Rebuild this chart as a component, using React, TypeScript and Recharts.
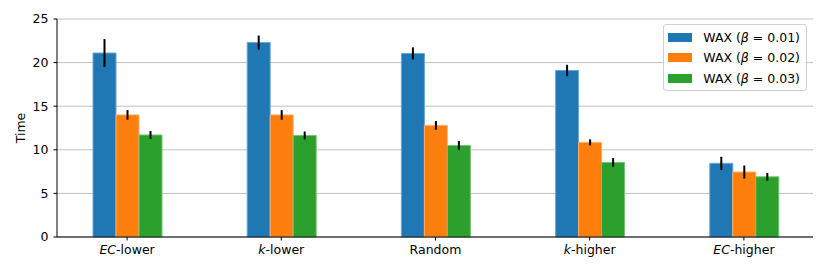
import React from 'react';
import {
  BarChart, Bar, XAxis, YAxis, CartesianGrid, ErrorBar, Legend,
} from 'recharts';

const categories = ['EC-lower', 'k-lower', 'Random', 'k-higher', 'EC-higher'];
const beta001 = [21.1, 22.3, 21.05, 19.1, 8.45];
const beta002 = [14.0, 14.0, 12.8, 10.85, 7.45];
const beta003 = [11.7, 11.65, 10.5, 8.55, 6.9];
const err001 = [1.6, 0.8, 0.7, 0.65, 0.75];
const err002 = [0.55, 0.55, 0.5, 0.35, 0.75];
const err003 = [0.45, 0.45, 0.5, 0.5, 0.45];
const yTicks = [0, 5, 10, 15, 20, 25];

const series = [
  { key: 'b1', err: 'e1', beta: '0.01', color: '#1f77b4', edge: '#6aa6d3' },
  { key: 'b2', err: 'e2', beta: '0.02', color: '#ff7f0e', edge: '#ffae6a' },
  { key: 'b3', err: 'e3', beta: '0.03', color: '#2ca02c', edge: '#75c275' },
];

const data = categories.map((name, i) => ({
  name,
  b1: beta001[i], b2: beta002[i], b3: beta003[i],
  e1: err001[i], e2: err002[i], e3: err003[i],
}));

const FONT = '"DejaVu Sans", sans-serif';
const FS = 12.5;

function CategoryTick({ x, y, payload }: any) {
  const label: string = payload.value;
  const dash = label.indexOf('-');
  return (
    <text x={x} y={y} dy="0.71em" textAnchor="middle" fill="#000" fontSize={FS} fontFamily={FONT}>
      {dash > 0 ? (
        <>
          <tspan fontStyle="italic">{label.slice(0, dash)}</tspan>
          <tspan>{label.slice(dash)}</tspan>
        </>
      ) : label}
    </text>
  );
}

function TimeLabel({ viewBox }: any) {
  const cx = viewBox.x + 20;
  const cy = viewBox.y + viewBox.height / 2;
  return (
    <text x={cx} y={cy} transform={`rotate(-90 ${cx} ${cy})`} textAnchor="middle"
      dominantBaseline="central" fontSize={FS} fontFamily={FONT} fill="#000">
      Time
    </text>
  );
}

function LegendBox() {
  return (
    <div style={{
      border: '1px solid #d0d0d0', borderRadius: 3, background: 'rgba(255,255,255,0.85)',
      padding: '2px 6px 3px 4px', fontFamily: FONT, fontSize: FS, color: '#000', boxSizing: 'border-box',
      height: 67,
    }}>
      {series.map(s => (
        <div key={s.key} style={{ display: 'flex', alignItems: 'center', height: 20.5 }}>
          <span style={{ display: 'inline-block', width: 26, height: 9, background: s.color, marginRight: 11 }} />
          <span style={{ whiteSpace: 'nowrap' }}>
            WAX (<i>β</i> = {s.beta})
          </span>
        </div>
      ))}
    </div>
  );
}

export default function App() {
  return (
    <div style={{ position: 'absolute', left: 0, top: 0, width: 830, height: 277, background: '#fff' }}>
      <BarChart
        width={830}
        height={277}
        data={data}
        barSize={23}
        barGap={0}
        margin={{ top: 19, right: 17, bottom: 0, left: 0 }}
      >
        <CartesianGrid vertical={false} stroke="#c0c0c0" strokeWidth={1} />
        <XAxis
          dataKey="name"
          height={40}
          padding={{ left: -7, right: -8 }}
          tick={<CategoryTick />}
          tickSize={3.5}
          tickMargin={5}
          tickLine={{ stroke: '#000' }}
          axisLine={{ stroke: '#000' }}
          interval={0}
        />
        <XAxis xAxisId="top" dataKey="name" orientation="top" height={0} tick={false}
          tickLine={false} axisLine={{ stroke: '#000' }} />
        <YAxis
          width={57}
          domain={[0, 25]}
          ticks={yTicks}
          tickSize={3.5}
          tickMargin={5}
          tick={{ fill: '#000', fontSize: FS, fontFamily: FONT }}
          tickLine={{ stroke: '#000' }}
          axisLine={{ stroke: '#000' }}
          label={<TimeLabel />}
        />
        <YAxis yAxisId="right" orientation="right" width={0} tick={false} tickLine={false}
          axisLine={{ stroke: '#000' }} domain={[0, 25]} />
        <Legend
          layout="vertical"
          align="center"
          verticalAlign="middle"
          wrapperStyle={{ top: 24, left: 663, width: 144 }}
          content={<LegendBox />}
        />
        {series.map(s => (
          <Bar key={s.key} dataKey={s.key} fill={s.color} stroke={s.edge} strokeWidth={1}
            isAnimationActive={false}>
            <ErrorBar dataKey={s.err} width={0} stroke="#000" strokeWidth={2} direction="y" />
          </Bar>
        ))}
      </BarChart>
    </div>
  );
}
